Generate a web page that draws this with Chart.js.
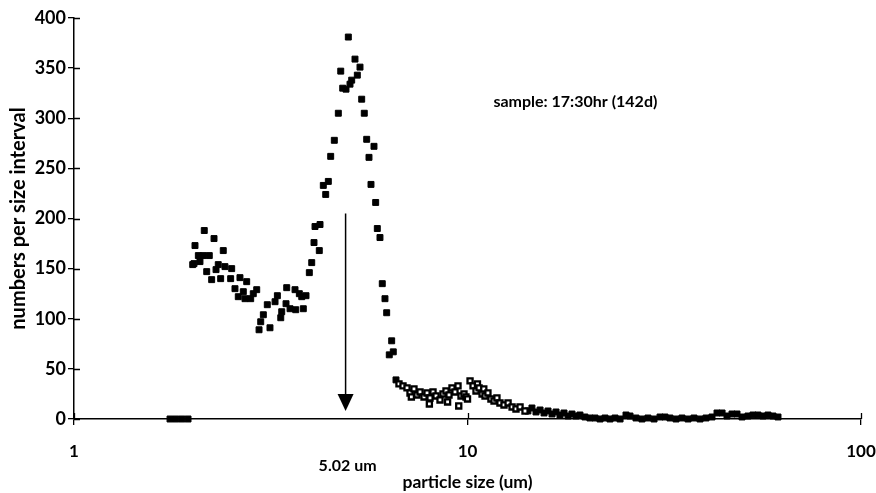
<!DOCTYPE html>
<html>
<head>
<meta charset="utf-8">
<script src="https://cdn.jsdelivr.net/npm/chart.js@4/dist/chart.umd.min.js"></script>
<style>
  html, body { margin: 0; padding: 0; background: #fff; }
</style>
</head>
<body>
<canvas id="psd" width="876" height="493"></canvas>
<script>
// particle size (um) / numbers per size interval
const filledSize = [1.754, 1.816, 1.881, 1.949,
  2.003, 2.018, 2.030, 2.070, 2.090, 2.131, 2.143, 2.174, 2.207, 2.238, 2.269, 2.296, 2.326, 2.359, 2.395, 2.419,
  2.501, 2.516, 2.565, 2.615, 2.641, 2.693, 2.720, 2.747, 2.812, 2.855, 2.913, 2.953, 2.982,
  3.028, 3.099, 3.148, 3.243, 3.287, 3.353, 3.372, 3.458, 3.472, 3.540, 3.645, 3.660, 3.738, 3.791, 3.826, 3.887, 3.963,
  4.019, 4.073, 4.097, 4.201, 4.219, 4.301, 4.362, 4.429, 4.491, 4.587, 4.696, 4.763, 4.818, 4.912, 4.979,
  5.028, 5.078, 5.177, 5.248, 5.331, 5.384, 5.466, 5.544, 5.619, 5.685, 5.786, 5.843, 5.899, 5.992,
  6.073, 6.170, 6.232, 6.327, 6.417, 6.477, 6.581,
  14.24, 14.58, 14.93, 15.29, 15.65, 16.02, 16.40, 16.79, 17.18, 17.59, 18.01, 18.43, 18.87, 19.31, 19.88,
  20.47, 21.09, 21.72, 22.36, 23.02, 23.71, 24.42, 25.28, 25.88, 26.80, 27.76, 28.75, 29.79, 30.85, 31.76,
  32.70, 33.88, 35.09, 36.35, 37.64, 38.99, 40.38, 41.82, 43.06, 44.36, 45.65, 47.01, 48.41, 49.85,
  51.62, 53.15, 54.73, 56.36, 58.03, 59.76, 61.53];
const filledCount = [0, 0, 0, 0,
  154, 155, 173, 163, 157, 163, 188, 147, 163, 139, 180, 149, 154, 140, 168, 152,
  140, 150, 130, 122, 141, 127, 120, 137, 120, 125, 129, 89, 97,
  104, 114, 91, 117, 123, 101, 107, 115, 131, 110, 129, 109, 125, 122, 110, 123, 146,
  156, 176, 192, 168, 194, 233, 224, 237, 262, 278, 305, 347, 330, 329, 381,
  334, 338, 359, 343, 351, 319, 305, 279, 261, 234, 272, 216, 190, 181,
  135, 120, 106, 64, 78, 67, 39,
  8, 11, 7, 9, 6, 8, 5, 7, 4, 6, 3, 5, 3, 4, 2,
  1, 1, 0, 1, 0, 1, 0, 4, 3, 1, 0, 1, 0, 2, 2,
  1, 0, 1, 0, 1, 0, 1, 2, 6, 6, 3, 5, 5, 2,
  3, 4, 4, 3, 4, 3, 2];

const openSize = [6.697, 6.856, 7.019, 7.143, 7.200, 7.311, 7.442, 7.574, 7.754, 7.891, 8.000, 8.031, 8.173, 8.317,
  8.514, 8.665, 8.818, 8.900, 8.974, 9.133, 9.294, 9.460, 9.500, 9.627, 9.797, 9.913, 10.00, 10.15, 10.33,
  10.51, 10.60, 10.70, 10.89, 11.00, 11.08, 11.27, 11.47, 11.68, 11.88, 12.09, 12.38, 12.68, 12.98, 13.28, 13.60, 14.00];
const openCount = [35, 33, 31, 26, 22, 30, 24, 27, 22, 26, 15, 21, 27, 23,
  19, 25, 28, 17, 24, 31, 27, 33, 13, 23, 25, 22, 20, 38, 33,
  28, 35, 31, 25, 30, 23, 26, 20, 18, 21, 16, 14, 16, 12, 10, 12, 8];

const xTicks = [1, 10, 100];
const yMax = 400;
const yStep = 50;

// arrow marking the mode, and the two notes
const arrowSize = 4.9;
const arrowTop = 205;
const arrowTip = 8;
const modeLabel = "5.02 um";
const noteSize = 18.8;
const noteCount = 316;
const noteText = "sample: 17:30hr (142d)";

const FONT = "Lato, 'DejaVu Sans', sans-serif";

const pts = (xs, ys) => xs.map((x, i) => ({ x: x, y: ys[i] }));

// ticks on this chart cross the axis, chart.js only draws them outside
const innerTicks = {
  id: "innerTicks",
  afterDraw(chart) {
    const { ctx, chartArea: a, scales } = chart;
    ctx.save();
    ctx.strokeStyle = "#000";
    ctx.lineWidth = 1.3;
    ctx.beginPath();
    scales.y.ticks.forEach(t => {
      const y = Math.round(scales.y.getPixelForValue(t.value)) + 0.5;
      ctx.moveTo(a.left, y);
      ctx.lineTo(a.left + 6, y);
    });
    scales.x.ticks.forEach(t => {
      const x = Math.round(scales.x.getPixelForValue(t.value)) + 0.5;
      ctx.moveTo(x, a.bottom);
      ctx.lineTo(x, a.bottom - 6);
    });
    ctx.stroke();
    ctx.restore();
  }
};

const notes = {
  id: "notes",
  afterDatasetsDraw(chart) {
    const { ctx, chartArea: a, scales } = chart;
    const ax = scales.x.getPixelForValue(arrowSize);
    const y1 = scales.y.getPixelForValue(arrowTop);
    const y2 = scales.y.getPixelForValue(arrowTip);
    ctx.save();
    ctx.strokeStyle = "#000";
    ctx.fillStyle = "#000";
    ctx.lineWidth = 1.5;
    ctx.beginPath();
    ctx.moveTo(ax, y1);
    ctx.lineTo(ax, y2 - 12);
    ctx.stroke();
    ctx.beginPath();
    ctx.moveTo(ax - 8, y2 - 17);
    ctx.lineTo(ax + 8, y2 - 17);
    ctx.lineTo(ax, y2);
    ctx.closePath();
    ctx.fill();

    ctx.font = "bold 16px " + FONT;
    ctx.textAlign = "center";
    ctx.textBaseline = "middle";
    ctx.fillText(modeLabel, ax + 2, a.bottom + 47);

    ctx.font = "bold 16px " + FONT;
    ctx.fillText(noteText, scales.x.getPixelForValue(noteSize), scales.y.getPixelForValue(noteCount));
    ctx.restore();
  }
};

new Chart(document.getElementById("psd").getContext("2d"), {
  type: "scatter",
  data: {
    datasets: [{
      label: "open",
      data: pts(openSize, openCount),
      pointStyle: "rect",
      pointRadius: 3.6,
      backgroundColor: "#fff",
      borderColor: "#000",
      borderWidth: 2.3,
      clip: false
    }, {
      label: "filled",
      data: pts(filledSize, filledCount),
      pointStyle: "rect",
      pointRadius: 4.2,
      backgroundColor: "#000",
      borderColor: "#000",
      borderWidth: 1,
      clip: false
    }]
  },
  options: {
    responsive: false,
    animation: false,
    layout: { padding: { top: 18, right: 15, left: 0, bottom: 0 } },
    plugins: {
      legend: { display: false },
      tooltip: { enabled: false }
    },
    scales: {
      x: {
        type: "logarithmic",
        min: 1,
        max: 100,
        afterBuildTicks: s => { s.ticks = xTicks.map(v => ({ value: v, major: true })); },
        afterFit: s => { s.height = 74; s.paddingLeft = 0; s.paddingRight = 0; },
        ticks: {
          callback: v => String(v),
          autoSkip: false,
          maxRotation: 0,
          padding: 16,
          color: "#000",
          font: { family: FONT, size: 17, weight: "bold" }
        },
        grid: { drawOnChartArea: false, tickLength: 6, color: "#000", lineWidth: 1.3 },
        border: { color: "#000", width: 1.5 },
        title: {
          display: true,
          text: "particle size (um)",
          color: "#000",
          padding: { top: 0, bottom: 0 },
          font: { family: FONT, size: 17.5, weight: "bold" }
        }
      },
      y: {
        min: 0,
        max: yMax,
        afterFit: s => { s.width = 74; s.paddingTop = 0; s.paddingBottom = 0; },
        ticks: {
          stepSize: yStep,
          padding: 2,
          color: "#000",
          font: { family: FONT, size: 18, weight: "bold" }
        },
        grid: { drawOnChartArea: false, tickLength: 6, color: "#000", lineWidth: 1.3 },
        border: { color: "#000", width: 1.5 },
        title: {
          display: true,
          text: "numbers per size interval",
          color: "#000",
          padding: { top: 7, bottom: 0 },
          font: { family: FONT, size: 20, weight: "bold" }
        }
      }
    }
  },
  plugins: [innerTicks, notes]
});
</script>
</body>
</html>
